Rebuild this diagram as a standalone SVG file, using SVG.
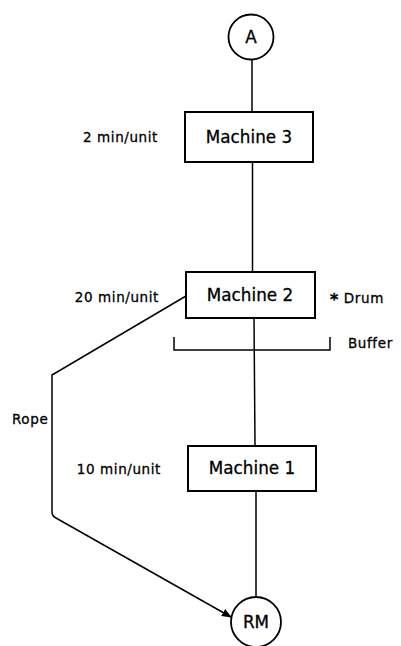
<svg xmlns="http://www.w3.org/2000/svg" width="401" height="646" viewBox="0 0 401 646">
<style>
.box{fill:#fff;stroke:#000;stroke-width:2}
.circ{fill:#fff;stroke:#000;stroke-width:1.8}
.ln{fill:none;stroke:#000;stroke-width:1.5}
.t{font-family:"DejaVu Sans","Liberation Sans",sans-serif;fill:#000;stroke:#000;stroke-width:0.3}
.mt{font-size:16.8px;text-anchor:middle}
.lb{font-size:13.5px;letter-spacing:0.6px}
</style>
<defs>
<marker id="arr" markerWidth="10" markerHeight="8" refX="9" refY="4" orient="auto" markerUnits="userSpaceOnUse">
<path d="M0,0 L10,4 L0,8 Z" fill="#000"/>
</marker>
</defs>
<rect width="401" height="646" fill="#fff"/>
<g id="connectors">
<line class="ln" x1="252" y1="59" x2="252" y2="112"/>
<line class="ln" x1="252.5" y1="162" x2="252.5" y2="272"/>
<line class="ln" x1="254" y1="318" x2="255" y2="446"/>
<line class="ln" x1="256" y1="491" x2="256" y2="597"/>
<path class="ln" d="M186,296 L52,375 L52,512 Q52,516 56,518 L231,617" marker-end="url(#arr)"/>
<path class="ln" d="M174,337 L174,350 L330,350 L330,337"/>
</g>
<g id="nodeA">
<circle class="circ" cx="251" cy="37" r="22.5"/>
<text class="t mt" x="251" y="43">A</text>
</g>
<g id="machine3">
<rect class="box" x="185" y="112" width="128" height="50"/>
<text class="t mt" x="249" y="143">Machine 3</text>
<text class="t lb" x="158" y="142" text-anchor="end">2 min/unit</text>
</g>
<g id="machine2">
<rect class="box" x="186" y="272" width="129" height="46"/>
<text class="t mt" x="250" y="301">Machine 2</text>
<text class="t lb" x="159" y="302" text-anchor="end">20 min/unit</text>
<text class="t lb" x="330" y="303"><tspan font-size="16" font-weight="bold" dy="2">*</tspan><tspan dy="-2"> Drum</tspan></text>
</g>
<g id="buffer">
<text class="t lb" x="348" y="348" letter-spacing="0.3">Buffer</text>
</g>
<g id="machine1">
<rect class="box" x="188" y="446" width="128" height="45"/>
<text class="t mt" x="252" y="474">Machine 1</text>
<text class="t lb" x="161" y="474" text-anchor="end">10 min/unit</text>
</g>
<g id="rope">
<text class="t lb" x="12" y="424" letter-spacing="0">Rope</text>
</g>
<g id="nodeRM">
<circle class="circ" cx="256" cy="622" r="25"/>
<text class="t mt" x="256" y="628">RM</text>
</g>
</svg>
